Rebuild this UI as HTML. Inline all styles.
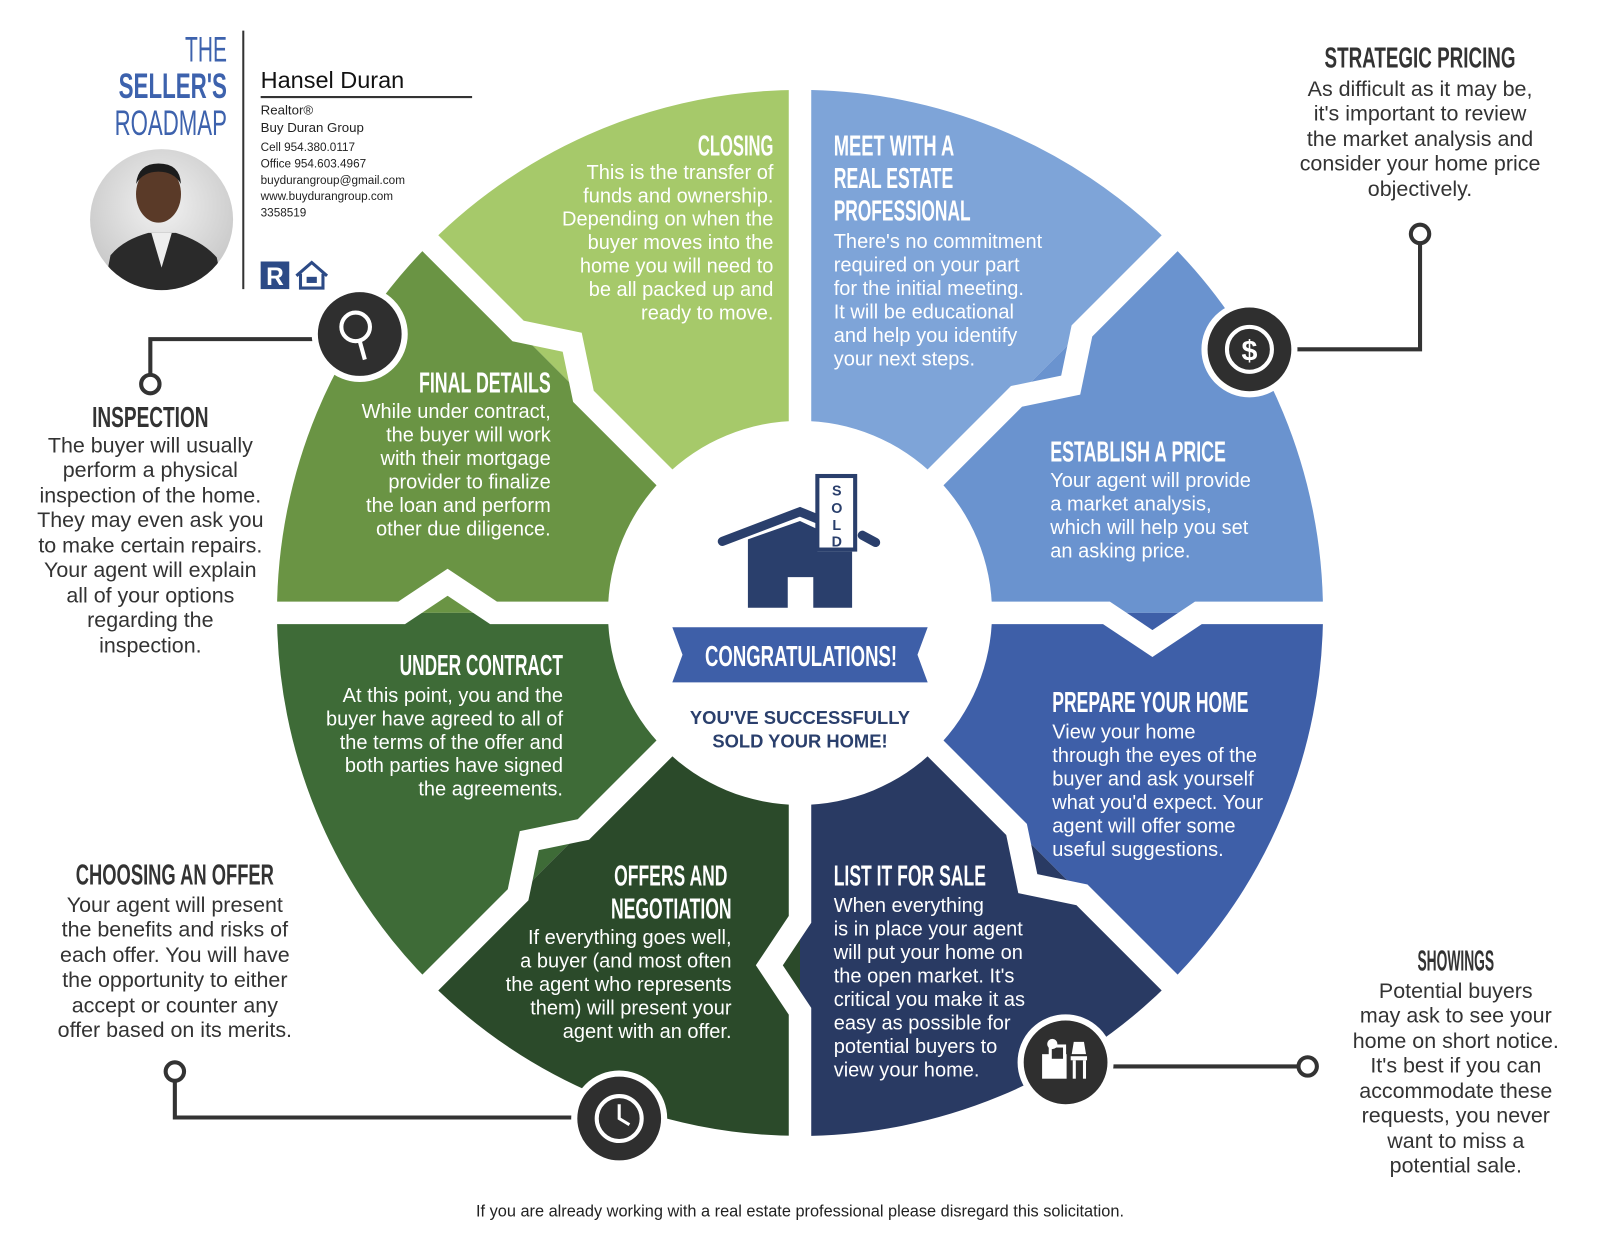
<!DOCTYPE html>
<html><head><meta charset="utf-8"><style>
html,body{margin:0;padding:0;background:#fff;}
svg{display:block;}
.h{font-family:"Liberation Sans Narrow","Liberation Sans",sans-serif;font-weight:bold;font-size:28px;}
.b{font-family:"Liberation Sans",sans-serif;font-size:19.6px;}
.w{fill:#fff;}
.d{fill:#333;}
</style></head><body>
<svg width="1600" height="1236" viewBox="0 0 1566 1210" xmlns="http://www.w3.org/2000/svg">
<rect width="1566" height="1210" fill="#fff"/>
<path d="M783,600 L1295,600 A512,512 0 0 0 1145,238 Z" fill="#6a93cf"/>
<path d="M783,600 L1145,238 A512,512 0 0 0 783,88 Z" fill="#7ea4d8"/>
<path d="M783,600 L783,88 A512,512 0 0 0 421,238 Z" fill="#a6c96a"/>
<path d="M783,600 L421,238 A512,512 0 0 0 271,600 Z" fill="#6a9444"/>
<path d="M783,600 L271,600 A512,512 0 0 0 421,962 Z" fill="#3e6b37"/>
<path d="M783,600 L421,962 A512,512 0 0 0 783,1112 Z" fill="#2b4a2a"/>
<path d="M783,600 L783,1112 A512,512 0 0 0 1145,962 Z" fill="#293a63"/>
<path d="M783,600 L1145,962 A512,512 0 0 0 1295,600 Z" fill="#3e5fa8"/>
<g fill="none" stroke="#fff" stroke-width="22" stroke-linejoin="miter">
<polyline points="953,600 1083,600 1128,630 1173,600 1313,600"/>
<polyline points="903,480 995,388 1048,377 1059,324 1158,225"/>
<polyline points="783,430 783,70"/>
<polyline points="663,480 571,388 560,335 507,324 408,225"/>
<polyline points="613,600 483,600 438,570 393,600 253,600"/>
<polyline points="663,720 571,812 518,823 507,876 408,975"/>
<polyline points="783,770 783,900 753,945 783,990 783,1130"/>
<polyline points="903,720 995,812 1006,865 1059,876 1158,975"/>
</g>
<circle cx="783" cy="600" r="188" fill="#fff"/>
<g fill="#2a3f6c">
<path d="M707,530 L783,501 L800,508" stroke="#2a3f6c" stroke-width="9" stroke-linecap="round" fill="none"/>
<path d="M844,524 L857,531" stroke="#2a3f6c" stroke-width="9" stroke-linecap="round" fill="none"/>
<path d="M732,528 L783,510 L800,518 L800,540 L834,540 L834,595 L796,595 L796,565 L771,565 L771,595 L732,595 Z"/>
<rect x="800" y="466" width="37" height="72" fill="#fff" stroke="#2a3f6c" stroke-width="4"/>
</g>
<g font-family="Liberation Sans,sans-serif" font-weight="bold" font-size="14" fill="#2a3f6c" text-anchor="middle">
<text x="819" y="485">S</text><text x="819" y="502">O</text><text x="819" y="519">L</text><text x="819" y="535">D</text>
</g>
<path d="M658,614 L908,614 L898,641 L908,668 L658,668 L668,641 Z" fill="#3e5fa8"/>
<text x="784" y="652" class="h w" text-anchor="middle" textLength="188" lengthAdjust="spacingAndGlyphs">CONGRATULATIONS!</text>
<g font-family="Liberation Sans,sans-serif" font-weight="bold" font-size="18" fill="#2a3f6c" text-anchor="middle">
<text x="783" y="709">YOU'VE SUCCESSFULLY</text><text x="783" y="732">SOLD YOUR HOME!</text>
</g>
<g fill="none" stroke="#333" stroke-width="4">
<polyline points="310,332 147,332 147,368"/>
<polyline points="1265,342 1390,342 1390,237"/>
<polyline points="564,1094 171,1094 171,1057"/>
<polyline points="1085,1044 1272,1044"/>
</g>
<g fill="#fff" stroke="#333" stroke-width="4">
<circle cx="147" cy="376" r="9"/><circle cx="1390" cy="229" r="9"/>
<circle cx="171" cy="1049" r="9"/><circle cx="1280" cy="1044" r="9"/>
</g>
<g fill="#2f2f2f" stroke="#fff" stroke-width="6">
<circle cx="352" cy="327" r="44"/><circle cx="1223" cy="342" r="44"/>
<circle cx="606" cy="1095" r="44"/><circle cx="1043" cy="1040" r="44"/>
</g>
<g fill="none" stroke="#fff" stroke-width="4">
<circle cx="348" cy="320" r="14"/><line x1="352" y1="334" x2="357" y2="352"/>
<circle cx="1223" cy="342" r="22"/>
<circle cx="606" cy="1095" r="22"/><polyline points="606,1081 606,1095 616,1101" stroke-width="3"/>
</g>
<text x="1223" y="353" font-family="Liberation Sans,sans-serif" font-weight="bold" font-size="28" fill="#fff" text-anchor="middle">$</text>
<g fill="#fff"><rect x="1020" y="1032" width="24" height="24"/><rect x="1028" y="1024" width="14" height="14" fill="#2f2f2f" stroke="#fff" stroke-width="3"/><rect x="1048" y="1034" width="16" height="4"/><rect x="1050" y="1038" width="3" height="18"/><rect x="1060" y="1038" width="3" height="18"/><path d="M1051,1020 L1061,1020 L1063,1032 L1049,1032 Z"/><circle cx="1030" cy="1022" r="5"/></g>
<g class="b w">
<text class="h" x="757" y="152" text-anchor="end" textLength="74" lengthAdjust="spacingAndGlyphs">CLOSING</text>
<g text-anchor="end"><text x="757" y="175">This is the transfer of</text><text x="757" y="198">funds and ownership.</text><text x="757" y="221">Depending on when the</text><text x="757" y="244">buyer moves into the</text><text x="757" y="267">home you will need to</text><text x="757" y="290">be all packed up and</text><text x="757" y="313">ready to move.</text></g>
<text class="h" x="816" y="152" textLength="118" lengthAdjust="spacingAndGlyphs">MEET WITH A</text>
<text class="h" x="816" y="184" textLength="117" lengthAdjust="spacingAndGlyphs">REAL ESTATE</text>
<text class="h" x="816" y="216" textLength="134" lengthAdjust="spacingAndGlyphs">PROFESSIONAL</text>
<text x="816" y="243">There's no commitment</text><text x="816" y="266">required on your part</text><text x="816" y="289">for the initial meeting.</text><text x="816" y="312">It will be educational</text><text x="816" y="335">and help you identify</text><text x="816" y="358">your next steps.</text>
<text class="h" x="539" y="384" text-anchor="end" textLength="129" lengthAdjust="spacingAndGlyphs">FINAL DETAILS</text>
<g text-anchor="end"><text x="539" y="409">While under contract,</text><text x="539" y="432">the buyer will work</text><text x="539" y="455">with their mortgage</text><text x="539" y="478">provider to finalize</text><text x="539" y="501">the loan and perform</text><text x="539" y="524">other due diligence.</text></g>
<text class="h" x="1028" y="452" textLength="172" lengthAdjust="spacingAndGlyphs">ESTABLISH A PRICE</text>
<text x="1028" y="477">Your agent will provide</text><text x="1028" y="500">a market analysis,</text><text x="1028" y="523">which will help you set</text><text x="1028" y="546">an asking price.</text>
<text class="h" x="551" y="661" text-anchor="end" textLength="160" lengthAdjust="spacingAndGlyphs">UNDER CONTRACT</text>
<g text-anchor="end"><text x="551" y="687">At this point, you and the</text><text x="551" y="710">buyer have agreed to all of</text><text x="551" y="733">the terms of the offer and</text><text x="551" y="756">both parties have signed</text><text x="551" y="779">the agreements.</text></g>
<text class="h" x="1030" y="697" textLength="192" lengthAdjust="spacingAndGlyphs">PREPARE YOUR HOME</text>
<text x="1030" y="723">View your home</text><text x="1030" y="746">through the eyes of the</text><text x="1030" y="769">buyer and ask yourself</text><text x="1030" y="792">what you'd expect. Your</text><text x="1030" y="815">agent will offer some</text><text x="1030" y="838">useful suggestions.</text>
<text class="h" x="712" y="867" text-anchor="end" textLength="111" lengthAdjust="spacingAndGlyphs">OFFERS AND</text>
<text class="h" x="716" y="899" text-anchor="end" textLength="118" lengthAdjust="spacingAndGlyphs">NEGOTIATION</text>
<g text-anchor="end"><text x="716" y="924">If everything goes well,</text><text x="716" y="947">a buyer (and most often</text><text x="716" y="970">the agent who represents</text><text x="716" y="993">them) will present your</text><text x="716" y="1016">agent with an offer.</text></g>
<text class="h" x="816" y="867" textLength="149" lengthAdjust="spacingAndGlyphs">LIST IT FOR SALE</text>
<text x="816" y="893">When everything</text><text x="816" y="916">is in place your agent</text><text x="816" y="939">will put your home on</text><text x="816" y="962">the open market. It's</text><text x="816" y="985">critical you make it as</text><text x="816" y="1008">easy as possible for</text><text x="816" y="1031">potential buyers to</text><text x="816" y="1054">view your home.</text>
</g>
<g class="b d" text-anchor="middle" style="font-size:21px">
<text class="h" x="147" y="418" textLength="114" lengthAdjust="spacingAndGlyphs">INSPECTION</text>
<text x="147" y="443">The buyer will usually</text><text x="147" y="467">perform a physical</text><text x="147" y="492">inspection of the home.</text><text x="147" y="516">They may even ask you</text><text x="147" y="541">to make certain repairs.</text><text x="147" y="565">Your agent will explain</text><text x="147" y="590">all of your options</text><text x="147" y="614">regarding the</text><text x="147" y="639">inspection.</text>
<text class="h" x="1390" y="66" textLength="187" lengthAdjust="spacingAndGlyphs">STRATEGIC PRICING</text>
<text x="1390" y="94">As difficult as it may be,</text><text x="1390" y="118">it's important to review</text><text x="1390" y="143">the market analysis and</text><text x="1390" y="167">consider your home price</text><text x="1390" y="192">objectively.</text>
<text class="h" x="171" y="866" textLength="194" lengthAdjust="spacingAndGlyphs">CHOOSING AN OFFER</text>
<text x="171" y="893">Your agent will present</text><text x="171" y="917">the benefits and risks of</text><text x="171" y="942">each offer. You will have</text><text x="171" y="966">the opportunity to either</text><text x="171" y="991">accept or counter any</text><text x="171" y="1015">offer based on its merits.</text>
<text class="h" x="1425" y="950" textLength="75" lengthAdjust="spacingAndGlyphs">SHOWINGS</text>
<text x="1425" y="977">Potential buyers</text><text x="1425" y="1001">may ask to see your</text><text x="1425" y="1026">home on short notice.</text><text x="1425" y="1050">It's best if you can</text><text x="1425" y="1075">accommodate these</text><text x="1425" y="1099">requests, you never</text><text x="1425" y="1124">want to miss a</text><text x="1425" y="1148">potential sale.</text>
</g>
<text x="783" y="1191" font-family="Liberation Sans,sans-serif" font-size="16" fill="#222" text-anchor="middle">If you are already working with a real estate professional please disregard this solicitation.</text>
<g fill="#3d62ad" text-anchor="end" font-family="Liberation Sans Narrow,Liberation Sans,sans-serif" font-size="34">
<text x="222" y="60" textLength="41" lengthAdjust="spacingAndGlyphs">THE</text>
<text x="222" y="96" font-weight="bold" textLength="106" lengthAdjust="spacingAndGlyphs">SELLER'S</text>
<text x="222" y="132" textLength="110" lengthAdjust="spacingAndGlyphs">ROADMAP</text>
</g>
<line x1="238" y1="30" x2="238" y2="283" stroke="#333" stroke-width="2"/>
<text x="255" y="86" font-family="Liberation Sans,sans-serif" font-size="23" fill="#111">Hansel Duran</text>
<line x1="255" y1="95" x2="462" y2="95" stroke="#333" stroke-width="2"/>
<g font-family="Liberation Sans,sans-serif" fill="#222">
<text x="255" y="112" font-size="13">Realtor®</text><text x="255" y="129" font-size="13">Buy Duran Group</text>
<g font-size="11.5"><text x="255" y="148">Cell 954.380.0117</text><text x="255" y="164">Office 954.603.4967</text><text x="255" y="180">buydurangroup@gmail.com</text><text x="255" y="196">www.buydurangroup.com</text><text x="255" y="212">3358519</text></g>
</g>
<rect x="255" y="256" width="28" height="27" fill="#2c4a86"/>
<text x="269" y="279" font-family="Liberation Sans,sans-serif" font-weight="bold" font-size="24" fill="#fff" text-anchor="middle">R</text>
<path d="M290,270 L305,257 L320,270 M294,268 L294,282 L316,282 L316,268" fill="none" stroke="#2c4a86" stroke-width="3"/>
<rect x="300" y="271" width="10" height="6" fill="#2c4a86"/>
<defs><radialGradient id="g" cx="0.5" cy="0.4" r="0.6"><stop offset="0" stop-color="#f2f2f2"/><stop offset="1" stop-color="#c8c8c8"/></radialGradient>
<clipPath id="cp"><ellipse cx="158" cy="215" rx="70" ry="69"/></clipPath></defs>
<ellipse cx="158" cy="215" rx="70" ry="69" fill="url(#g)"/>
<g clip-path="url(#cp)">
<path d="M100,290 L108,250 Q120,235 145,228 L172,228 Q198,236 212,252 L220,290 Z" fill="#2a2a2a"/>
<path d="M148,228 L158,262 L168,228 Z" fill="#eee"/>
<ellipse cx="155" cy="190" rx="22" ry="28" fill="#5a3a28"/>
<path d="M133,180 Q135,160 155,160 Q176,160 177,180 Q170,168 155,168 Q140,168 133,180 Z" fill="#1c1c1c"/>
</g>
</svg>
</body></html>
